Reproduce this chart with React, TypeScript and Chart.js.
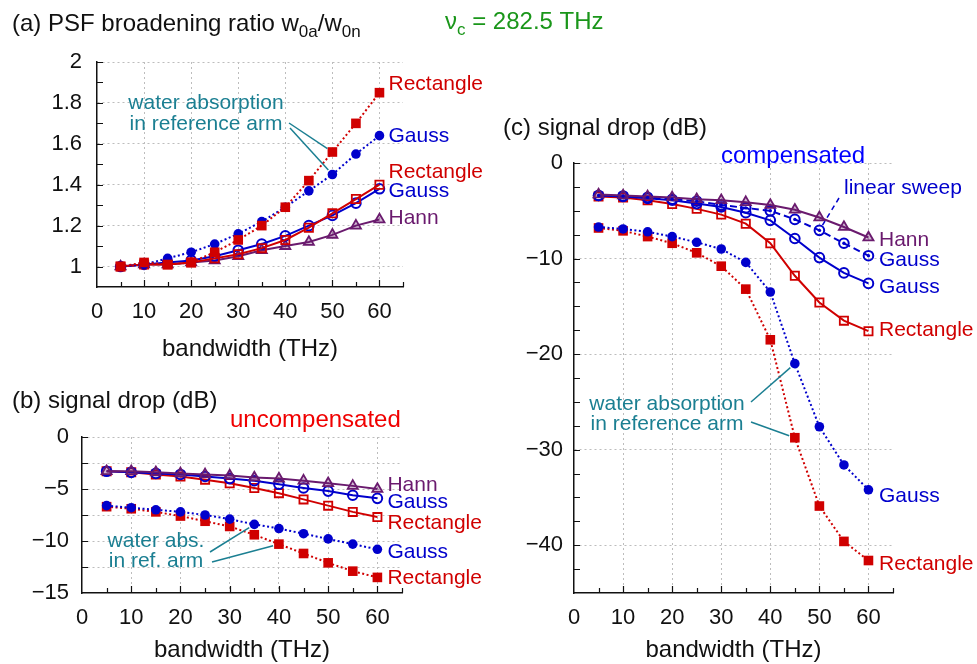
import React, { useEffect, useRef } from 'react';
import { Chart, registerables } from 'chart.js';

Chart.register(...registerables);

const W = 977;
const H = 664;
const FONT = '"Liberation Sans", Arial, Helvetica, sans-serif';

const RED = '#d00000';
const BLUE = '#0000cc';
const PURPLE = '#6a1a6e';
const TEAL = '#1b7f92';
const GREEN = '#1a961a';
const GRID = '#bdbdbd';
const INK = '#111111';

// x values (bandwidth, THz) shared by all series
const BANDWIDTH = [5, 10, 15, 20, 25, 30, 35, 40, 45, 50, 55, 60];
const X_TICKS = [0, 10, 20, 30, 40, 50, 60];

// (a) PSF broadening ratio
const A_RECT_WATER = [1.0, 1.02, 1.01, 1.02, 1.07, 1.13, 1.2, 1.29, 1.42, 1.56, 1.7, 1.85];
const A_GAUSS_WATER = [1.0, 1.01, 1.04, 1.07, 1.11, 1.16, 1.22, 1.29, 1.37, 1.45, 1.55, 1.64];
const A_RECT = [1.0, 1.01, 1.01, 1.02, 1.04, 1.06, 1.09, 1.13, 1.19, 1.26, 1.33, 1.4];
const A_GAUSS = [1.0, 1.01, 1.02, 1.03, 1.05, 1.08, 1.11, 1.15, 1.2, 1.25, 1.31, 1.38];
const A_HANN = [1.0, 1.01, 1.01, 1.02, 1.03, 1.05, 1.08, 1.1, 1.12, 1.155, 1.2, 1.23];
const A_Y_TICKS = [1, 1.2, 1.4, 1.6, 1.8, 2];

// (b) signal drop, uncompensated (dB)
const B_HANN = [-3.3, -3.3, -3.4, -3.5, -3.6, -3.7, -3.9, -4.0, -4.2, -4.45, -4.7, -5.0];
const B_GAUSS = [-3.3, -3.4, -3.5, -3.6, -3.8, -4.0, -4.2, -4.55, -4.9, -5.2, -5.6, -5.9];
const B_RECT = [-3.3, -3.4, -3.6, -3.8, -4.1, -4.45, -4.9, -5.4, -6.0, -6.6, -7.2, -7.7];
const B_GAUSS_WATER = [-6.6, -6.8, -7.0, -7.2, -7.5, -7.9, -8.4, -8.8, -9.3, -9.8, -10.3, -10.8];
const B_RECT_WATER = [-6.7, -6.9, -7.2, -7.6, -8.1, -8.6, -9.4, -10.3, -11.2, -12.1, -12.9, -13.5];
const B_Y_TICKS = [-15, -12.5, -10, -7.5, -5, -2.5, 0];

// (c) signal drop, compensated (dB)
const C_HANN = [-3.3, -3.4, -3.5, -3.6, -3.8, -3.9, -4.1, -4.4, -4.9, -5.7, -6.7, -7.8];
const C_GAUSS_LIN = [-3.4, -3.45, -3.6, -3.8, -4.0, -4.4, -4.7, -5.0, -5.9, -7.05, -8.4, -9.7];
const C_GAUSS = [-3.4, -3.5, -3.7, -3.9, -4.25, -4.6, -5.2, -6.0, -7.9, -9.9, -11.5, -12.6];
const C_RECT = [-3.5, -3.6, -3.9, -4.3, -4.8, -5.4, -6.35, -8.4, -11.8, -14.6, -16.5, -17.6];
const C_GAUSS_WATER = [-6.7, -6.9, -7.2, -7.7, -8.3, -9.0, -10.4, -13.5, -21.0, -27.6, -31.6, -34.2];
const C_RECT_WATER = [-6.8, -7.1, -7.7, -8.4, -9.4, -10.8, -13.2, -18.5, -28.75, -35.9, -39.6, -41.6];
const C_Y_TICKS = [-40, -30, -20, -10, 0];

type Kind = 'rectWater' | 'gaussWater' | 'rect' | 'gauss' | 'hann' | 'gaussLin';

interface Series {
  name: string;
  values: number[];
  kind: Kind;
  color: string;
  dy: number;
}
interface Seg { t: string; sub?: boolean }
interface RichText { segs: Seg[]; x: number; y: number; size: number; color: string }
interface Leader { from: [number, number]; series: number; point: number; dash?: number[]; color: string }
interface Note { lines: string[]; cx: number; baselines: number[]; color: string; size: number }
interface PanelCfg {
  id: string;
  series: Series[];
  xMax: number;
  yMin: number;
  yMax: number;
  yTicks: number[];
  yLabelEvery: number;
  yMinor: number;
  area: { l: number; t: number; r: number; b: number };
  yPad: number;
  labelDx: number;
  texts: RichText[];
  notes: Note[];
  leaders: Leader[];
  xTitleBaseline: number;
}

function styleFor(kind: Kind, color: string): any {
  const base: any = { borderColor: color, borderWidth: 2, pointBorderColor: color, tension: 0, fill: false };
  switch (kind) {
    case 'rectWater':
      return { ...base, borderDash: [2, 2.5], pointStyle: 'rect', pointRadius: 6.8, pointBackgroundColor: color, pointBorderWidth: 0 };
    case 'gaussWater':
      return { ...base, borderDash: [2, 2.5], pointStyle: 'circle', pointRadius: 4.8, pointBackgroundColor: color, pointBorderWidth: 0 };
    case 'rect':
      return { ...base, pointStyle: 'rect', pointRadius: 5.8, pointBackgroundColor: 'rgba(0,0,0,0)', pointBorderWidth: 1.8 };
    case 'gauss':
      return { ...base, pointStyle: 'circle', pointRadius: 4.8, pointBackgroundColor: 'rgba(0,0,0,0)', pointBorderWidth: 2 };
    case 'hann':
      return { ...base, pointStyle: 'triangle', pointRadius: 5.8, pointBackgroundColor: 'rgba(106,26,110,0.3)', pointBorderWidth: 1.8 };
    case 'gaussLin':
      return { ...base, borderDash: [7, 4], pointStyle: 'circle', pointRadius: 4.8, pointBackgroundColor: 'rgba(0,0,0,0)', pointBorderWidth: 2 };
  }
}

const fmt = (v: number) => (v < 0 ? '\u2212' + String(Math.abs(v)) : String(v));

const PANELS: PanelCfg[] = [
  {
    id: 'a',
    series: [
      { name: 'Rectangle', values: A_RECT_WATER, kind: 'rectWater', color: RED, dy: -3 },
      { name: 'Gauss', values: A_GAUSS_WATER, kind: 'gaussWater', color: BLUE, dy: 6 },
      { name: 'Rectangle', values: A_RECT, kind: 'rect', color: RED, dy: -7 },
      { name: 'Gauss', values: A_GAUSS, kind: 'gauss', color: BLUE, dy: 8 },
      { name: 'Hann', values: A_HANN, kind: 'hann', color: PURPLE, dy: 4 },
    ],
    xMax: 65,
    yMin: 0.9,
    yMax: 2,
    yTicks: A_Y_TICKS,
    yLabelEvery: 0.2,
    yMinor: 0.1,
    area: { l: 97, t: 62, r: 403, b: 287 },
    yPad: 15,
    labelDx: 9,
    texts: [
      { segs: [{ t: '(a) PSF broadening ratio w' }, { t: '0a', sub: true }, { t: '/w' }, { t: '0n', sub: true }], x: 12, y: 31, size: 24, color: INK },
      { segs: [{ t: 'ν' }, { t: 'c', sub: true }, { t: ' = 282.5 THz' }], x: 445, y: 29, size: 24, color: GREEN },
    ],
    notes: [{ lines: ['water absorption', 'in reference arm'], cx: 206, baselines: [109, 130], color: TEAL, size: 21 }],
    leaders: [
      { from: [289, 123], series: 0, point: 9, color: TEAL },
      { from: [290, 128], series: 1, point: 9, color: TEAL },
    ],
    xTitleBaseline: 356,
  },
  {
    id: 'b',
    series: [
      { name: 'Hann', values: B_HANN, kind: 'hann', color: PURPLE, dy: 2 },
      { name: 'Gauss', values: B_GAUSS, kind: 'gauss', color: BLUE, dy: 10 },
      { name: 'Rectangle', values: B_RECT, kind: 'rect', color: RED, dy: 11.5 },
      { name: 'Gauss', values: B_GAUSS_WATER, kind: 'gaussWater', color: BLUE, dy: 9 },
      { name: 'Rectangle', values: B_RECT_WATER, kind: 'rectWater', color: RED, dy: 7 },
    ],
    xMax: 65,
    yMin: -15,
    yMax: 0,
    yTicks: B_Y_TICKS,
    yLabelEvery: 5,
    yMinor: 2.5,
    area: { l: 82, t: 437, r: 402, b: 593 },
    yPad: 13,
    labelDx: 10,
    texts: [
      { segs: [{ t: '(b) signal drop (dB)' }], x: 12, y: 408, size: 24, color: INK },
      { segs: [{ t: 'uncompensated' }], x: 230, y: 427, size: 24, color: '#f00000' },
    ],
    notes: [{ lines: ['water abs.', 'in ref. arm'], cx: 156, baselines: [547, 567], color: TEAL, size: 21 }],
    leaders: [
      { from: [210, 552], series: 3, point: 6, color: TEAL },
      { from: [212, 562], series: 4, point: 7, color: TEAL },
    ],
    xTitleBaseline: 657,
  },
  {
    id: 'c',
    series: [
      { name: 'Hann', values: C_HANN, kind: 'hann', color: PURPLE, dy: 8 },
      { name: 'Gauss', values: C_GAUSS_LIN, kind: 'gaussLin', color: BLUE, dy: 10.5 },
      { name: 'Gauss', values: C_GAUSS, kind: 'gauss', color: BLUE, dy: 10 },
      { name: 'Rectangle', values: C_RECT, kind: 'rect', color: RED, dy: 5 },
      { name: 'Gauss', values: C_GAUSS_WATER, kind: 'gaussWater', color: BLUE, dy: 12.5 },
      { name: 'Rectangle', values: C_RECT_WATER, kind: 'rectWater', color: RED, dy: 9 },
    ],
    xMax: 65,
    yMin: -45,
    yMax: 0,
    yTicks: C_Y_TICKS,
    yLabelEvery: 10,
    yMinor: 2.5,
    area: { l: 574, t: 163, r: 893, b: 593 },
    yPad: 11,
    labelDx: 10.5,
    texts: [
      { segs: [{ t: '(c) signal drop (dB)' }], x: 503, y: 135, size: 24, color: INK },
      { segs: [{ t: 'compensated' }], x: 721, y: 163, size: 24, color: '#0000ff' },
      { segs: [{ t: 'linear sweep' }], x: 844, y: 194, size: 21, color: BLUE },
    ],
    notes: [{ lines: ['water absorption', 'in reference arm'], cx: 667, baselines: [410, 430], color: TEAL, size: 21 }],
    leaders: [
      { from: [839, 198], series: 1, point: 9, dash: [5, 4], color: BLUE },
      { from: [751, 402], series: 4, point: 8, color: TEAL },
      { from: [751, 422], series: 5, point: 8, color: TEAL },
    ],
    xTitleBaseline: 657,
  },
];

function drawRich(ctx: CanvasRenderingContext2D, t: RichText) {
  ctx.save();
  ctx.fillStyle = t.color;
  ctx.textAlign = 'left';
  ctx.textBaseline = 'alphabetic';
  let cx = t.x;
  for (const s of t.segs) {
    const sz = s.sub ? Math.round(t.size * 0.72) : t.size;
    ctx.font = `${sz}px ${FONT}`;
    ctx.fillText(s.t, cx, s.sub ? t.y + t.size * 0.27 : t.y);
    cx += ctx.measureText(s.t).width;
  }
  ctx.restore();
}

function makeDecor(cfg: PanelCfg) {
  return {
    id: 'decor_' + cfg.id,
    afterDraw(chart: any) {
      const ctx: CanvasRenderingContext2D = chart.ctx;
      const xs = chart.scales.x;
      const ys = chart.scales.y;
      const area = chart.chartArea;
      const axisY = xs.top; // x axis line
      const axisX = ys.right; // y axis line
      ctx.save();
      // inward tick marks (pointing into the plot area)
      ctx.strokeStyle = INK;
      ctx.lineWidth = 1.2;
      ctx.setLineDash([]);
      ctx.beginPath();
      const nX = Math.round(cfg.xMax / 5);
      for (let k = 1; k <= nX; k++) {
        const v = k * 5;
        const px = Math.round(xs.getPixelForValue(v)) + 0.5;
        const len = v % 10 === 0 ? 7 : 5;
        ctx.moveTo(px, axisY);
        ctx.lineTo(px, axisY - len);
      }
      const nY = Math.round((cfg.yMax - cfg.yMin) / cfg.yMinor);
      for (let k = 1; k <= nY; k++) {
        const v = cfg.yMin + k * cfg.yMinor;
        const py = Math.round(ys.getPixelForValue(v)) + 0.5;
        ctx.moveTo(axisX, py);
        ctx.lineTo(axisX + 6, py);
      }
      ctx.stroke();

      // centre dots on linear sweep markers
      cfg.series.forEach((s, i) => {
        if (s.kind !== 'gaussLin') return;
        const meta = chart.getDatasetMeta(i);
        ctx.fillStyle = s.color;
        meta.data.forEach((p: any) => {
          ctx.beginPath();
          ctx.arc(p.x, p.y, 1.7, 0, Math.PI * 2);
          ctx.fill();
        });
      });

      // end labels
      ctx.font = `21px ${FONT}`;
      ctx.textAlign = 'left';
      ctx.textBaseline = 'alphabetic';
      cfg.series.forEach((s, i) => {
        const meta = chart.getDatasetMeta(i);
        const p = meta.data[meta.data.length - 1];
        ctx.fillStyle = s.color;
        ctx.fillText(s.name, p.x + cfg.labelDx, p.y + s.dy);
      });

      // x axis title
      ctx.font = `24px ${FONT}`;
      ctx.fillStyle = INK;
      ctx.textAlign = 'center';
      ctx.fillText('bandwidth (THz)', (area.left + area.right) / 2, cfg.xTitleBaseline);

      // notes
      cfg.notes.forEach((n) => {
        ctx.font = `${n.size}px ${FONT}`;
        ctx.fillStyle = n.color;
        ctx.textAlign = 'center';
        n.lines.forEach((line, j) => ctx.fillText(line, n.cx, n.baselines[j]));
      });

      // leader lines
      cfg.leaders.forEach((l) => {
        const p = chart.getDatasetMeta(l.series).data[l.point];
        const dx = p.x - l.from[0];
        const dy = p.y - l.from[1];
        const d = Math.hypot(dx, dy);
        const gap = 6;
        ctx.save();
        ctx.strokeStyle = l.color;
        ctx.lineWidth = 1.5;
        ctx.setLineDash(l.dash || []);
        ctx.beginPath();
        ctx.moveTo(l.from[0], l.from[1]);
        ctx.lineTo(p.x - (dx / d) * gap, p.y - (dy / d) * gap);
        ctx.stroke();
        ctx.restore();
      });

      ctx.restore();
      cfg.texts.forEach((t) => drawRich(ctx, t));
    },
  };
}

function buildConfig(cfg: PanelCfg): any {
  const Y_AXIS_W = 60;
  const X_AXIS_H = 40;
  const datasets = cfg.series.map((s) => ({
    label: s.name,
    data: BANDWIDTH.map((x, i) => ({ x, y: s.values[i] })),
    ...styleFor(s.kind, s.color),
    clip: false,
  }));
  const isLabel = (v: number) => Math.abs(v / cfg.yLabelEvery - Math.round(v / cfg.yLabelEvery)) < 1e-6;
  return {
    type: 'line',
    data: { datasets },
    plugins: [makeDecor(cfg)],
    options: {
      responsive: false,
      maintainAspectRatio: false,
      devicePixelRatio: 1,
      animation: false,
      events: [],
      layout: {
        padding: {
          left: cfg.area.l - Y_AXIS_W,
          top: cfg.area.t,
          right: W - cfg.area.r,
          bottom: H - cfg.area.b - X_AXIS_H,
        },
      },
      plugins: { legend: { display: false }, tooltip: { enabled: false }, title: { display: false } },
      scales: {
        x: {
          type: 'linear',
          min: 0,
          max: cfg.xMax,
          afterBuildTicks: (s: any) => {
            s.ticks = X_TICKS.map((v) => ({ value: v }));
          },
          afterFit: (s: any) => {
            s.height = X_AXIS_H;
          },
          grid: {
            color: (c: any) => (c.tick && c.tick.value > 0 ? GRID : 'rgba(0,0,0,0)'),
            lineWidth: 1,
            drawTicks: false,
          },
          border: { display: true, color: INK, width: 1.5, dash: [2, 3] },
          ticks: {
            font: { family: FONT, size: 22 },
            color: INK,
            padding: 12,
            maxRotation: 0,
            autoSkip: false,
            callback: (v: number) => fmt(v),
          },
        },
        y: {
          type: 'linear',
          min: cfg.yMin,
          max: cfg.yMax,
          afterBuildTicks: (s: any) => {
            s.ticks = cfg.yTicks.map((v) => ({ value: v }));
          },
          afterFit: (s: any) => {
            s.width = Y_AXIS_W;
          },
          grid: {
            color: (c: any) => (c.tick && c.tick.value > cfg.yMin ? GRID : 'rgba(0,0,0,0)'),
            lineWidth: 1,
            drawTicks: false,
          },
          border: { display: true, color: INK, width: 1.5, dash: [2, 3] },
          ticks: {
            font: { family: FONT, size: 22 },
            color: INK,
            padding: cfg.yPad,
            autoSkip: false,
            callback: (v: number) => (isLabel(v) ? fmt(v) : ''),
          },
        },
      },
    },
  };
}

function Panel({ cfg }: { cfg: PanelCfg }) {
  const ref = useRef<HTMLCanvasElement>(null);
  useEffect(() => {
    if (!ref.current) return;
    const chart = new Chart(ref.current, buildConfig(cfg));
    return () => chart.destroy();
  }, [cfg]);
  return (
    <canvas
      ref={ref}
      width={W}
      height={H}
      style={{ position: 'absolute', left: 0, top: 0, width: W, height: H }}
    />
  );
}

export default function App() {
  return (
    <div style={{ position: 'absolute', left: 0, top: 0, width: W, height: H, background: '#ffffff' }}>
      {PANELS.map((p) => (
        <Panel key={p.id} cfg={p} />
      ))}
    </div>
  );
}
